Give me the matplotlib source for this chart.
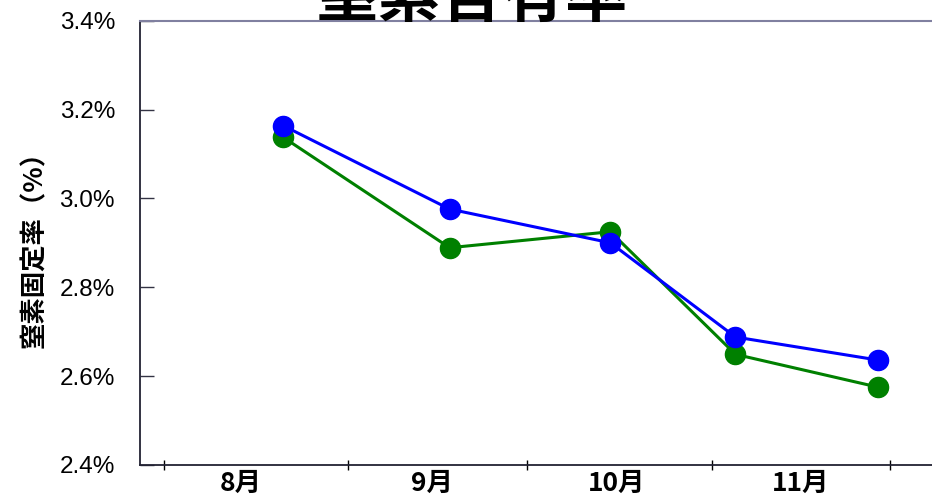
import matplotlib.pyplot as plt
import matplotlib.dates as mdates
from matplotlib.ticker import StrMethodFormatter, FixedLocator
import numpy as np
from datetime import date

plt.rcParams['font.family'] = ['Liberation Sans', 'Noto Sans CJK JP', 'DejaVu Sans']

# sampling dates and nitrogen values (%)
dates = [date(2023, 8, 21), date(2023, 9, 18), date(2023, 10, 15),
         date(2023, 11, 5), date(2023, 11, 29)]
blue_vals = [3.164, 2.976, 2.900, 2.688, 2.636]
green_vals = [3.138, 2.889, 2.925, 2.649, 2.575]

month_starts = [date(2023, 8, 1), date(2023, 9, 1), date(2023, 10, 1),
                date(2023, 11, 1), date(2023, 12, 1)]
month_mids = [date(2023, 8, 14), date(2023, 9, 15), date(2023, 10, 16), date(2023, 11, 16)]
month_labels = ['8月', '9月', '10月', '11月']

fig = plt.figure(figsize=(9.32, 4.97), dpi=100)
ax = fig.add_axes([0.1502, 0.0644, 0.8498, 0.894])

ax.plot(dates, green_vals, color='#008000', lw=2.2, marker='o', ms=14.5, zorder=3)
ax.plot(dates, blue_vals, color='#0000ff', lw=2.2, marker='o', ms=14.5, zorder=4)

ax.set_ylim(2.4, 3.4)
ax.set_yticks(np.arange(2.4, 3.41, 0.2))
ax.yaxis.set_major_formatter(StrMethodFormatter('{x:.1f}%'))
ax.set_xlim(date(2023, 7, 28), date(2023, 12, 8))

ax.xaxis.set_major_locator(FixedLocator(mdates.date2num(month_starts)))
ax.xaxis.set_major_formatter(plt.NullFormatter())
ax.xaxis.set_minor_locator(FixedLocator(mdates.date2num(month_mids)))
ax.set_xticks(mdates.date2num(month_mids), month_labels, minor=True,
              fontsize=19, fontweight='bold', family=['Noto Sans CJK JP'])

ax.tick_params(axis='x', which='major', direction='inout', length=7, width=1, color='black')
ax.tick_params(axis='x', which='minor', length=0, pad=3.5)
ax.tick_params(axis='y', direction='in', length=10, width=1, color='#333344',
               labelsize=17.5, pad=18)

for side in ['left', 'bottom']:
    ax.spines[side].set_color('#222233')
    ax.spines[side].set_linewidth(1.3)
ax.spines['top'].set_color('#8080a0')
ax.spines['top'].set_linewidth(1.5)
ax.spines['right'].set_visible(False)

ax.set_ylabel('窒素固定率（%）', fontsize=19, fontweight='bold',
              family=['Noto Sans CJK JP'], labelpad=8)

fig.text(0.506, 1 - 16 / 497, '窒素含有率', fontsize=45, fontweight='bold',
         family=['Noto Sans CJK JP'], ha='center', va='baseline')

fig.savefig('out.png', dpi=100)
